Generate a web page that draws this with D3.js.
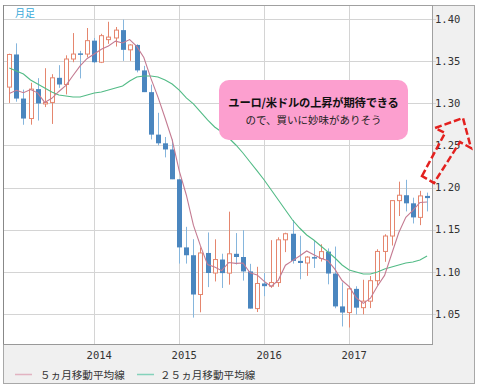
<!DOCTYPE html>
<html><head><meta charset="utf-8">
<script src="https://cdn.jsdelivr.net/npm/d3@7"></script>
<style>html,body{margin:0;padding:0;background:#fff;}svg{display:block;}</style>
</head><body>
<svg id="c" width="478" height="390"></svg>
<script>
const months = [
 "2013-01","2013-02","2013-03","2013-04","2013-05","2013-06","2013-07","2013-08","2013-09","2013-10","2013-11","2013-12",
 "2014-01","2014-02","2014-03","2014-04","2014-05","2014-06","2014-07","2014-08","2014-09","2014-10","2014-11","2014-12",
 "2015-01","2015-02","2015-03","2015-04","2015-05","2015-06","2015-07","2015-08","2015-09","2015-10","2015-11","2015-12",
 "2016-01","2016-02","2016-03","2016-04","2016-05","2016-06","2016-07","2016-08","2016-09","2016-10","2016-11","2016-12",
 "2017-01","2017-02","2017-03","2017-04","2017-05","2017-06","2017-07","2017-08","2017-09","2017-10","2017-11","2017-12"];
const open = [
 1.3192,1.3579,1.3056,1.2819,1.3168,1.2998,1.3010,1.3302,1.3223,1.3525,1.3592,1.3584,
 1.3743,1.3487,1.3755,1.3775,1.3868,1.3634,1.3692,1.3390,1.3132,1.2628,1.2525,1.2452,
 1.2098,1.1290,1.1197,1.0731,1.1224,1.0986,1.1146,1.0985,1.1214,1.1176,1.1005,1.0564,
 1.0862,1.0830,1.0873,1.1380,1.1452,1.1130,1.1105,1.1175,1.1158,1.1240,1.0980,1.0590,
 1.0517,1.0798,1.0575,1.0652,1.0895,1.1242,1.1425,1.1845,1.1909,1.1813,1.1646,1.1901];
const high = [
 1.3588,1.3711,1.3162,1.3243,1.3298,1.3416,1.3345,1.3452,1.3569,1.3833,1.3622,1.3893,
 1.3775,1.3824,1.3967,1.3905,1.3993,1.3700,1.3700,1.3444,1.3221,1.2887,1.2600,1.2570,
 1.2100,1.1534,1.1387,1.1290,1.1467,1.1386,1.1215,1.1714,1.1460,1.1495,1.1095,1.1060,
 1.0985,1.1376,1.1410,1.1464,1.1616,1.1428,1.1186,1.1366,1.1327,1.1278,1.1300,1.0874,
 1.0830,1.0829,1.0906,1.0951,1.1268,1.1446,1.1847,1.2070,1.2092,1.1880,1.1961,1.1940];
const low = [
 1.3004,1.3019,1.2745,1.2746,1.2795,1.2955,1.2755,1.3183,1.3105,1.3487,1.3295,1.3546,
 1.3477,1.3477,1.3705,1.3673,1.3503,1.3503,1.3367,1.3133,1.2571,1.2500,1.2358,1.2100,
 1.1098,1.1098,1.0457,1.0520,1.0819,1.0886,1.0809,1.0848,1.1087,1.0896,1.0565,1.0523,
 1.0711,1.0810,1.0822,1.1234,1.1098,1.0912,1.0952,1.1046,1.1122,1.0852,1.0568,1.0352,
 1.0340,1.0494,1.0496,1.0570,1.0839,1.1119,1.1312,1.1662,1.1717,1.1574,1.1554,1.1717];
const close = [
 1.3579,1.3056,1.2819,1.3168,1.2998,1.3010,1.3302,1.3223,1.3525,1.3584,1.3584,1.3743,
 1.3487,1.3802,1.3785,1.3868,1.3634,1.3692,1.3390,1.3132,1.2628,1.2525,1.2452,1.2098,
 1.1290,1.1197,1.0731,1.1224,1.0986,1.1146,1.0985,1.1214,1.1176,1.1005,1.0564,1.0862,
 1.0830,1.0873,1.1380,1.1452,1.1130,1.1105,1.1175,1.1158,1.1240,1.0980,1.0590,1.0517,
 1.0798,1.0575,1.0652,1.0895,1.1242,1.1425,1.1845,1.1909,1.1813,1.1646,1.1901,1.1875];
const ma5 = [
 1.3115,1.3154,1.3126,1.3163,1.3124,1.3010,1.3059,1.3140,1.3212,1.3329,1.3444,1.3532,
 1.3585,1.3640,1.3680,1.3737,1.3715,1.3756,1.3674,1.3543,1.3295,1.3073,1.2825,1.2567,
 1.2199,1.1912,1.1554,1.1308,1.1086,1.1057,1.1014,1.1111,1.1101,1.1105,1.0989,1.0964,
 1.0887,1.0827,1.0902,1.1079,1.1133,1.1188,1.1248,1.1204,1.1162,1.1132,1.1029,1.0897,
 1.0825,1.0692,1.0626,1.0687,1.0832,1.0958,1.1212,1.1463,1.1647,1.1728,1.1823,1.1829];
const ma25 = [
 1.3419,1.3383,1.3347,1.3276,1.3229,1.3181,1.3134,1.3098,1.3087,1.3075,1.3075,1.3098,
 1.3122,1.3134,1.3157,1.3181,1.3205,1.3264,1.3312,1.3324,1.3324,1.3312,1.3276,1.3229,
 1.3157,1.3063,1.2992,1.2897,1.2802,1.2719,1.2659,1.2588,1.2505,1.2410,1.2303,1.2197,
 1.2090,1.1971,1.1853,1.1734,1.1615,1.1520,1.1437,1.1378,1.1307,1.1236,1.1164,1.1081,
 1.1022,1.0998,1.0974,1.0974,1.0998,1.1034,1.1057,1.1081,1.1105,1.1117,1.1141,1.1188];
const yTicks = [1.05,1.10,1.15,1.20,1.25,1.30,1.35,1.40];
const yearLabels = ["2014","2015","2016","2017"];
const legendItems = ["５ヵ月移動平均線","２５ヵ月移動平均線"];
const periodLabel = "月足";
const noteLines = ["ユーロ/米ドルの上昇が期待できる","ので、買いに妙味がありそう"];

const svg = d3.select("#c");
const L = 3, R = 433, T = 5, B = 345;
const x = d3.scaleLinear().domain([-0.89, 59.84]).range([L, R]);
const y = d3.scaleLinear().domain([1.0132, 1.4166]).range([B, T]);
const idx = months.map((m,i)=>i);

// outer frame
svg.append("rect").attr("x",3.5).attr("y",5.5).attr("width",471).attr("height",378)
  .attr("fill","#f0f0f0").attr("stroke","#a8a8a8");
// plot area
svg.append("rect").attr("x",L).attr("y",T).attr("width",R-L).attr("height",B-T).attr("fill","#fff");

// grid
const g = svg.append("g");
g.selectAll("line.h").data(yTicks).join("line")
  .attr("x1",L).attr("x2",R+3).attr("y1",d=>Math.round(y(d))+0.5).attr("y2",d=>Math.round(y(d))+0.5)
  .attr("stroke","#d4d4d4");
const yearIdx = yearLabels.map(yl => months.indexOf(yl+"-01"));
g.selectAll("line.v").data(yearIdx).join("line")
  .attr("x1",d=>Math.round(x(d))+0.5).attr("x2",d=>Math.round(x(d))+0.5).attr("y1",T).attr("y2",B)
  .attr("stroke","#d4d4d4");

// plot border
svg.append("rect").attr("x",L+0.5).attr("y",T+0.5).attr("width",R-L-1).attr("height",B-T-1)
  .attr("fill","none").attr("stroke","#a0a0a0");
svg.append("line").attr("x1",L+0.5).attr("x2",L+0.5).attr("y1",T).attr("y2",B).attr("stroke","#888");
svg.append("line").attr("x1",L).attr("x2",R).attr("y1",B-0.5).attr("y2",B-0.5).attr("stroke","#999");

// y labels
svg.selectAll("text.yt").data(yTicks).join("text")
  .attr("x",435).attr("y",d=>y(d)).attr("dy","0.35em")
  .attr("font-family","DejaVu Sans Mono").attr("font-size",10.5).attr("fill","#333")
  .text(d=>d.toFixed(2));
// x labels
svg.selectAll("text.xt").data(yearLabels).join("text")
  .attr("x",(d,i)=>x(yearIdx[i])+5).attr("y",359).attr("text-anchor","middle")
  .attr("font-family","DejaVu Sans Mono").attr("font-size",10.5).attr("fill","#333")
  .text(d=>d);

// candles
const cg = svg.append("g");
const upC = "#e5866e", dnC = "#4a86bf", dnWick = "#86b6dd";
idx.forEach(i=>{
  const up = close[i] >= open[i];
  const cx = Math.round(x(i)) + 0.5;
  cg.append("line").attr("x1",cx).attr("x2",cx).attr("y1",y(high[i])).attr("y2",y(low[i]))
    .attr("stroke", up ? upC : dnWick).attr("stroke-width",1);
  const top = y(Math.max(open[i],close[i])), bot = y(Math.min(open[i],close[i]));
  const h = Math.max(1.5, bot-top);
  if (up) {
    cg.append("rect").attr("x",cx-2).attr("y",top).attr("width",4).attr("height",h)
      .attr("fill","#fff").attr("stroke",upC).attr("stroke-width",1);
  } else {
    cg.append("rect").attr("x",cx-2.5).attr("y",top).attr("width",5).attr("height",h)
      .attr("fill",dnC);
  }
});

// moving averages
const line = d3.line().x(i=>x(i)).y((i,k,arr)=>0);
const l5 = d3.line().x(i=>x(i)).y(i=>y(ma5[i]));
const l25 = d3.line().x(i=>x(i)).y(i=>y(ma25[i]));
svg.append("path").attr("d",l25(idx)).attr("fill","none").attr("stroke","#52bb86").attr("stroke-width",1.1);
svg.append("path").attr("d",l5(idx)).attr("fill","none").attr("stroke","#c47b92").attr("stroke-width",1.1);

// period label
svg.append("text").attr("x",15).attr("y",17).attr("font-family","Noto Sans CJK JP").attr("font-size",10)
  .attr("fill","#3aa9d9").text(periodLabel);

// annotation box
svg.append("rect").attr("x",219).attr("y",80).attr("width",189).attr("height",60).attr("rx",10)
  .attr("fill","#fc9fcf");
svg.append("text").attr("x",313.5).attr("y",107).attr("text-anchor","middle")
  .attr("font-family","Noto Sans CJK JP").attr("font-weight","bold").attr("font-size",11.3)
  .attr("letter-spacing",-0.2).attr("fill","#111").text(noteLines[0]);
svg.append("text").attr("x",313.5).attr("y",124).attr("text-anchor","middle")
  .attr("font-family","Noto Sans CJK JP").attr("font-size",10.5).attr("fill","#222").text(noteLines[1]);

// dashed arrow
const arrow = [[422,176],[445,133],[435,128],[463,118],[471,148],[460,142],[434,183]];
svg.append("path").attr("d","M"+arrow.map(p=>p.join(",")).join("L")+"Z")
  .attr("fill","none").attr("stroke","#e3211f").attr("stroke-width",2.5)
  .attr("stroke-dasharray","7,3").attr("stroke-linejoin","miter");

// legend
const lgX = [15, 137], lgTX = [40, 160], lgC = ["#e2b3c1","#84d2bb"];
legendItems.forEach((t,i)=>{
  svg.append("line").attr("x1",lgX[i]).attr("x2",lgX[i]+17).attr("y1",374.5).attr("y2",374.5)
    .attr("stroke",lgC[i]).attr("stroke-width",1.5);
  svg.append("text").attr("x",lgTX[i]).attr("y",378.5).attr("font-family","Noto Sans CJK JP")
    .attr("font-size",10.6).attr("fill","#333").text(t);
});
</script>
</body></html>
